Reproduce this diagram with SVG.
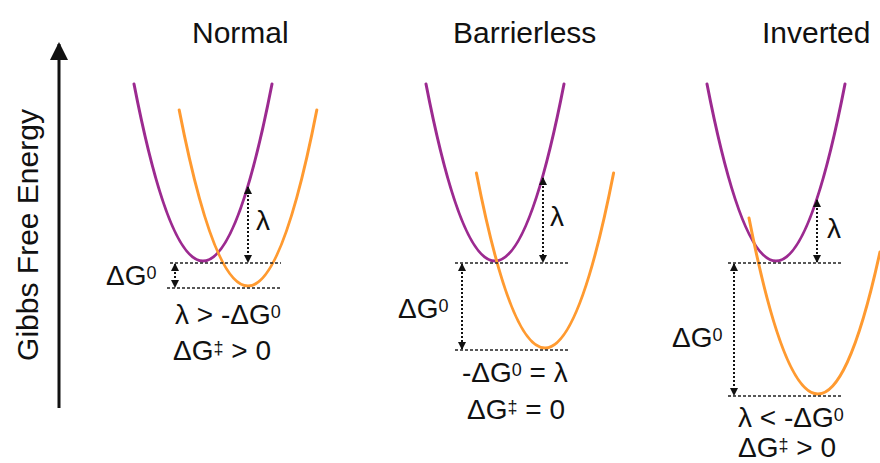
<svg xmlns="http://www.w3.org/2000/svg" width="880" height="463" viewBox="0 0 880 463">
<style>
text{font-family:"Liberation Sans",Arial,sans-serif;fill:#111}
.title{font-size:30px}
.lbl{font-size:28px}
.sup{font-size:18px}
.pur{fill:none;stroke:#9c2a90;stroke-width:3;stroke-linecap:round}
.ora{fill:none;stroke:#ff9a30;stroke-width:3;stroke-linecap:round}
.ref{stroke:#222;stroke-width:1.5;stroke-dasharray:3 2;fill:none}
.dim{stroke:#111;stroke-width:2;stroke-dasharray:2 2;fill:none;marker-start:url(#ah);marker-end:url(#ah)}
</style>
<defs>
<marker id="ah" markerUnits="userSpaceOnUse" markerWidth="8" markerHeight="8" refX="7" refY="4" orient="auto-start-reverse">
<path d="M0,0 L8,4 L0,8 z" fill="#111"/>
</marker>
<marker id="axh" markerUnits="userSpaceOnUse" markerWidth="18" markerHeight="18" refX="16" refY="9" orient="auto">
<path d="M0,0 L18,9 L0,18 z" fill="#111"/>
</marker>
</defs>
<rect width="880" height="463" fill="#fff"/>

<g id="axis">
<line x1="59" y1="408" x2="59" y2="44" stroke="#111" stroke-width="3" marker-end="url(#axh)"/>
<text class="title" transform="translate(38,235) rotate(-90)" text-anchor="middle">Gibbs Free Energy</text>
</g>

<g id="panel-normal">
<text class="title" x="192" y="43">Normal</text>
<path class="pur" d="M134,84 Q203,438 272,84"/>
<path class="ora" d="M179.2,110 Q248,462 316.8,110"/>
<text class="lbl" x="256" y="230">λ</text>
<text class="lbl" x="106" y="285">ΔG<tspan class="sup" dy="-6">0</tspan></text>
<text class="lbl" x="175" y="324">λ &gt; -ΔG<tspan class="sup" dy="-6">0</tspan></text>
<text class="lbl" x="173" y="360">ΔG<tspan class="sup" dy="-6">‡</tspan><tspan dy="6"> &gt; 0</tspan></text>
</g>

<g id="panel-barrierless">
<text class="title" x="453" y="43">Barrierless</text>
<path class="pur" d="M426,84 Q495,438 564,84"/>
<path class="ora" d="M476.4,173 Q545,523 613.6,173"/>
<text class="lbl" x="550" y="226">λ</text>
<text class="lbl" x="398" y="318">ΔG<tspan class="sup" dy="-6">0</tspan></text>
<text class="lbl" x="462" y="382">-ΔG<tspan class="sup" dy="-6">0</tspan><tspan dy="6"> = λ</tspan></text>
<text class="lbl" x="467" y="419">ΔG<tspan class="sup" dy="-6">‡</tspan><tspan dy="6"> = 0</tspan></text>
</g>

<g id="panel-inverted">
<text class="title" x="762" y="43">Inverted</text>
<path class="pur" d="M707,84 Q776,438 845,84"/>
<path class="ora" d="M749,218 Q814.5,552.2 880,251.9"/>
<text class="lbl" x="827" y="238">λ</text>
<text class="lbl" x="672" y="347">ΔG<tspan class="sup" dy="-6">0</tspan></text>
<text class="lbl" x="738" y="427">λ &lt; -ΔG<tspan class="sup" dy="-6">0</tspan></text>
<text class="lbl" x="738" y="457">ΔG<tspan class="sup" dy="-6">‡</tspan><tspan dy="6"> &gt; 0</tspan></text>
</g>

<g id="connectors">
<line class="ref" x1="170" y1="263" x2="281" y2="263"/>
<line class="ref" x1="167" y1="288" x2="281" y2="288"/>
<line class="dim" x1="175" y1="264" x2="175" y2="287"/>
<line class="dim" x1="248" y1="187" x2="248" y2="262"/>

<line class="ref" x1="455" y1="263" x2="570" y2="263"/>
<line class="ref" x1="455" y1="350" x2="570" y2="350"/>
<line class="dim" x1="462" y1="264" x2="462" y2="349"/>
<line class="dim" x1="543" y1="178" x2="543" y2="262"/>

<line class="ref" x1="728" y1="263" x2="842" y2="263"/>
<line class="ref" x1="728" y1="396" x2="842" y2="396"/>
<line class="dim" x1="734" y1="264" x2="734" y2="395"/>
<line class="dim" x1="817" y1="200" x2="817" y2="262"/>
</g>
</svg>
